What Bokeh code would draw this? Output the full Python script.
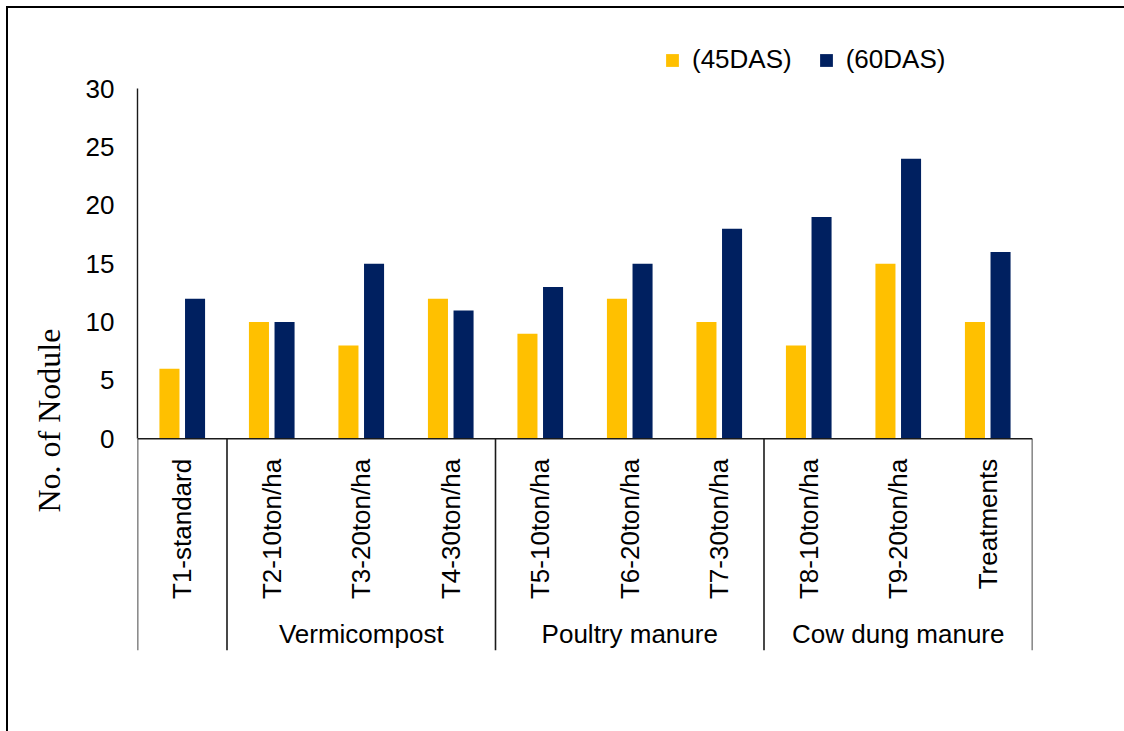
import math
from bokeh.plotting import figure
from bokeh.models import (ColumnDataSource, FactorRange, Range1d, LinearAxis, FixedTicker,
                          Span, Legend, LegendItem, Title)
from bokeh.transform import dodge
from bokeh.core.properties import value
from bokeh.embed import file_html
from bokeh.resources import INLINE

# ---------------- data ----------------
categories = ["T1-standard", "T2-10ton/ha", "T3-20ton/ha", "T4-30ton/ha", "T5-10ton/ha",
              "T6-20ton/ha", "T7-30ton/ha", "T8-10ton/ha", "T9-20ton/ha", "Treatments"]
das45 = [6, 10, 8, 12, 9, 12, 10, 8, 15, 10]
das60 = [12, 10, 15, 11, 13, 15, 18, 19, 24, 16]
groups = ["", "Vermicompost", "Poultry manure", "Cow dung manure"]
group_sizes = [1, 3, 3, 3]
y_ticks = [0, 5, 10, 15, 20, 25, 30]
series_names = ["(45DAS)", "(60DAS)"]
y_title = "No. of Nodule"

# ---------------- layout (page pixels) ----------------
W, H = 1116, 723
OFF = 8
FL, FR, FT, FB = 137, 1030, 30, 648      # plot frame edges
Y_ZERO, Y_TOP = 437, 88                  # where 0 and 30 sit
Y_MAX = 30
ppu = (Y_ZERO - Y_TOP) / Y_MAX
y_end = Y_MAX + (Y_TOP - FT) / ppu
y_start = -(FB - Y_ZERO) / ppu

SANS = "Liberation Sans"
SERIF = "Liberation Serif"
YELLOW = "#FFC000"
NAVY = "#002060"
INK = "#1a1a1a"

p = figure(width=W, height=H,
           x_range=FactorRange(factors=categories, range_padding=0),
           y_range=Range1d(y_start, y_end),
           output_backend="svg", toolbar_location=None,
           x_axis_location=None, y_axis_location=None,
           min_border_left=FL - OFF, min_border_right=OFF + W - FR,
           min_border_top=FT - OFF, min_border_bottom=OFF + H - FB)
p.grid.visible = False
p.outline_line_color = None
p.background_fill_color = "white"
p.border_fill_color = "white"
p.styles = {"margin-left": "6px", "margin-top": "6px",
            "border-left": "2px solid #000", "border-top": "2px solid #000",
            "box-sizing": "content-box"}

# y axis
yaxis = LinearAxis(ticker=FixedTicker(ticks=y_ticks), bounds=(0, Y_MAX))
yaxis.major_tick_out = 0
yaxis.major_tick_in = 0
yaxis.minor_tick_out = 0
yaxis.minor_tick_in = 0
yaxis.axis_line_color = INK
yaxis.axis_line_width = 1.4
yaxis.major_label_standoff = 23
yaxis.major_label_text_font = SANS
yaxis.major_label_text_font_size = "26px"
yaxis.major_label_text_color = "black"
p.add_layout(yaxis, "left")

# y title
p.add_layout(Title(text=y_title, align="left", offset=138, standoff=32,
                   text_font=SERIF, text_font_size="32px", text_font_style="normal",
                   text_color="black"), "left")

src = ColumnDataSource(dict(cat=categories, a=das45, b=das60, zero=[0] * len(categories)))

r1 = p.vbar(x=dodge("cat", -0.143, range=p.x_range), top="a", width=0.224, source=src,
            fill_color=YELLOW, line_color=None)
r2 = p.vbar(x=dodge("cat", 0.143, range=p.x_range), top="b", width=0.224, source=src,
            fill_color=NAVY, line_color=None)

# horizontal category axis line at 0
p.add_layout(Span(location=0, dimension="width", line_color=INK, line_width=1.4))

# group separators
bounds = [0]
for s in group_sizes:
    bounds.append(bounds[-1] + s)
p.segment(x0=bounds, y0=[0] * len(bounds), x1=bounds, y1=[y_start] * len(bounds),
          line_color=INK, line_width=1.6)

# category labels
p.text(x="cat", y="zero", text="cat", source=src, angle=math.pi / 2,
       text_align="right", text_baseline="middle", y_offset=20,
       text_font=value(SANS), text_font_size="26px", text_color="black")

# group labels
gx, gt = [], []
for b, s, g in zip(bounds[:-1], group_sizes, groups):
    if g:
        gx.append(b + s / 2)
        gt.append(g)
p.text(x=gx, y=[0] * len(gx), text=gt, text_align="center", text_baseline="middle",
       y_offset=195, text_font=value(SANS), text_font_size="26px", text_color="black")

# legend
legend = Legend(items=[LegendItem(label=series_names[0], renderers=[r1]),
                       LegendItem(label=series_names[1], renderers=[r2])],
                orientation="horizontal", location=(527, 575),
                glyph_width=16, glyph_height=16, label_standoff=12, spacing=26,
                padding=0, margin=0, border_line_color=None, background_fill_alpha=0,
                label_text_font=SANS, label_text_font_size="26px", label_text_color="black")
p.add_layout(legend)

open("out.html", "w").write(file_html(p, INLINE))
